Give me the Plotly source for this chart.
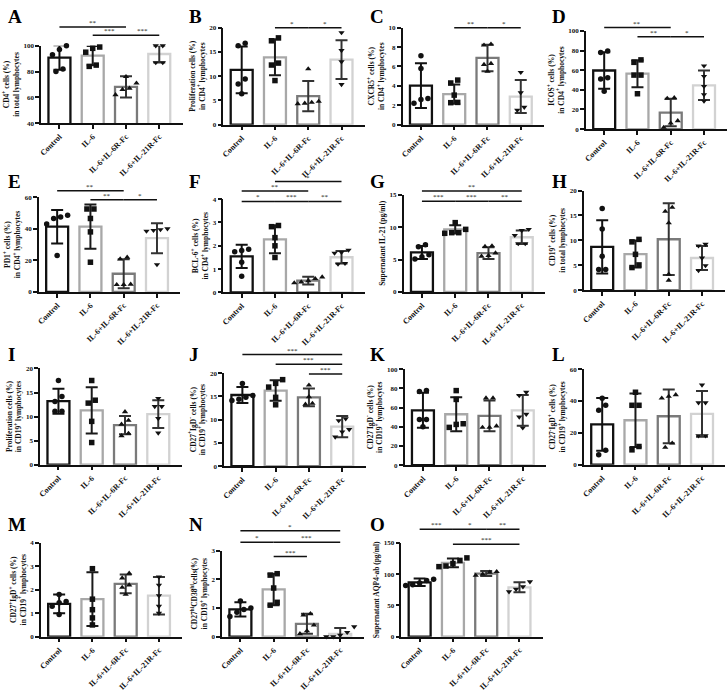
import plotly.graph_objects as go

W, H = 728, 692
GROUPS = ["Control", "IL-6", "IL-6+IL-6R-Fc", "IL-6+IL-21R-Fc"]

# ---------------- data ----------------
A_mean = [90.8, 92.3, 68.1, 93.6]
A_sd = [9.5, 7.5, 8.3, 6.5]
A_pts = [[100, 97, 93, 82, 80], [99, 98, 95, 85, 84], [76, 71, 67, 62, 66], [100, 100, 87, 87]]
A_ticks = [40, 60, 80, 100]
A_sig = [(0, 2, "**", 114.5), (1, 2, "***", 108.1), (2, 3, "***", 108.1)]

B_mean = [11.3, 13.9, 5.9, 13.4]
B_sd = [4.8, 3.7, 3.1, 4.0]
B_pts = [[16.8, 16.3, 9.4, 8.4, 6.4], [17.3, 17.9, 12.3, 12.7, 9.1], [11.5, 4.8, 4.6, 4.3, 4.4], [19.0, 15.3, 13.0, 8.3]]
B_ticks = [0, 5, 10, 15, 20]
B_sig = [(1, 2, "*", 20), (2, 3, "*", 20)]

C_mean = [4.03, 3.15, 6.88, 2.9]
C_sd = [2.3, 1.0, 1.37, 1.7]
C_pts = [[7.1, 5.8, 2.7, 2.6, 2.2], [4.6, 4.3, 3.05, 2.27, 2.3], [8.2, 8.3, 6.3, 6.2, 5.5], [5.4, 3.3, 1.8, 1.5]]
C_ticks = [0, 2, 4, 6, 8, 10]
C_sig = [(1, 2, "**", 10), (2, 3, "*", 10)]

D_mean = [59.7, 56.4, 16.8, 44.6]
D_sd = [18.5, 13.7, 14.0, 15.0]
D_pts = [[79.5, 78, 51, 52.3, 38.6], [68, 70.5, 55, 55, 36], [31.2, 31.9, 6, 8.4, 1.7], [64.4, 53.7, 43.6, 35.2, 28.5]]
D_ticks = [0, 20, 40, 60, 80, 100]
D_sig = [(0, 2, "**", 103.4), (1, 2, "**", 94), (2, 3, "*", 94)]

E_mean = [41.3, 41.3, 11.5, 34.0]
E_sd = [10.6, 14.0, 9.2, 9.5]
E_pts = [[48.5, 46.5, 47.5, 43, 23], [52.5, 52.5, 46.5, 38, 18.8], [21.9, 20.8, 4.6, 4.8, 4.6], [40, 39.5, 39, 38.5, 17.3]]
E_ticks = [0, 20, 40, 60]
E_sig = [(0, 2, "**", 64), (1, 2, "**", 58.3), (2, 3, "*", 58.3)]

F_mean = [1.55, 2.28, 0.51, 1.51]
F_sd = [0.5, 0.6, 0.17, 0.27]
F_pts = [[1.85, 1.75, 1.8, 1.3, 0.7], [2.82, 2.87, 2.35, 2.0, 1.5], [0.59, 0.66, 0.45, 0.41, 0.5], [1.69, 1.82, 1.72, 1.25, 1.22]]
F_ticks = [0, 1, 2, 3, 4]
F_sig = [(1, 3, "*", 4.75), (0, 2, "**", 4.35), (0, 1, "*", 3.9), (1, 2, "***", 3.9), (2, 3, "**", 3.9)]

G_mean = [6.1, 9.66, 6.0, 8.44]
G_sd = [1.0, 0.65, 0.9, 1.05]
G_pts = [[7.27, 6.97, 5.44, 5.74, 5.08], [10.7, 9.15, 9.05, 9.66, 9.15], [7.1, 7.0, 6.0, 5.6, 5.5], [9.5, 9.66, 8.75, 7.47, 7.47]]
G_ticks = [0, 5, 10, 15]
G_sig = [(0, 3, "**", 15.6), (0, 1, "***", 14.0), (1, 2, "***", 14.0), (2, 3, "**", 14.0)]

H_mean = [8.7, 7.26, 10.23, 6.47]
H_sd = [5.35, 2.7, 7.2, 2.4]
H_pts = [[16.4, 12.3, 6.8, 4.16, 4.16], [10.2, 9.7, 7.2, 4.55, 5.08], [16.6, 15.8, 13.5, 3.2, 2.0], [9.24, 8.9, 6.47, 4.95, 3.96]]
H_ticks = [0, 5, 10, 15, 20]
H_sig = []

I_mean = [13.2, 11.3, 8.2, 10.5]
I_sd = [2.6, 4.8, 1.9, 2.9]
I_pts = [[17.5, 14.2, 13.15, 11.1, 11.1], [17.5, 13.4, 12.8, 9.0, 4.6], [11.0, 9.2, 8.4, 6.5, 6.0], [13.8, 12.1, 12.1, 9.6, 6.6]]
I_ticks = [0, 5, 10, 15, 20]
I_sig = []

J_mean = [15.3, 16.25, 14.8, 8.5]
J_sd = [1.7, 2.2, 1.9, 2.3]
J_pts = [[17.8, 15.2, 14.8, 14.4, 14.1], [18.6, 17.8, 17.0, 14.8, 13.2], [17.4, 14.9, 13.5, 13.3], [10.2, 9.8, 7.9, 7.4, 6.3]]
J_ticks = [0, 5, 10, 15, 20]
J_sig = [(0, 3, "***", 24), (1, 3, "***", 21.9), (2, 3, "***", 19.8)]

K_mean = [57.2, 53.1, 51.4, 57.2]
K_sd = [18.3, 17.6, 16.0, 16.0]
K_pts = [[77.7, 76.7, 47.6, 47.6, 40], [77.7, 68.5, 39.4, 43.2, 42.5], [69.9, 69.9, 39.4, 39.4, 40.8], [76, 72.6, 50.3, 53.1, 39]]
K_ticks = [0, 20, 40, 60, 80, 100]
K_sig = []

L_mean = [25.3, 27.9, 30.4, 31.9]
L_sd = [16.6, 16.8, 16.9, 14.4]
L_pts = [[41.8, 37.3, 34.2, 9.1, 6.2], [37.3, 37.3, 45.5, 11.4, 9.3], [43.9, 42.9, 41.8, 13.5, 10.8], [50.1, 38.9, 38.9, 18.2, 18.2]]
L_ticks = [0, 20, 40, 60]
L_sig = []

M_mean = [1.4, 1.6, 2.25, 1.75]
M_sd = [0.4, 1.15, 0.4, 0.8]
M_pts = [[1.8, 1.5, 1.45, 1.3, 0.95], [2.9, 1.6, 1.15, 0.8, 0.5], [2.7, 2.5, 2.2, 2.1, 1.8], [2.55, 2.2, 1.75, 1.3, 1.0]]
M_ticks = [0, 1, 2, 3, 4]
M_sig = []

N_mean = [0.95, 1.65, 0.45, 0.1]
N_sd = [0.25, 0.55, 0.35, 0.2]
N_pts = [[1.25, 1.0, 0.95, 0.85, 0.7], [2.2, 2.15, 1.7, 1.2, 1.1], [0.8, 0.75, 0.4, 0.2, 0.1], [0.35, 0.15, 0.05, 0.0, 0.0]]
N_ticks = [0, 1, 2, 3]
N_sig = [(0, 3, "*", 3.7), (0, 1, "*", 3.3), (1, 3, "***", 3.3), (1, 2, "***", 2.8)]

O_mean = [87, 118, 101, 79]
O_sd = [6, 7, 4, 8]
O_pts = [[92, 90, 86, 83, 82], [126, 122, 117, 113, 112], [104, 103, 100, 98], [88, 80, 76, 72]]
O_ticks = [0, 50, 100, 150]
O_sig = [(0, 1, "***", 172), (1, 2, "*", 172), (2, 3, "**", 172), (1, 3, "***", 148)]

SUP = "<sup>+</sup>"
MIN = "<sup>-</sup>"
panels = [
    ("A", A_mean, A_sd, A_pts, A_ticks, A_sig, "CD4" + SUP + " cells (%)<br>in total lymphocytes"),
    ("B", B_mean, B_sd, B_pts, B_ticks, B_sig, "Proliferation cells (%)<br>in CD4" + SUP + " lymphocytes"),
    ("C", C_mean, C_sd, C_pts, C_ticks, C_sig, "CXCR5" + SUP + " cells (%)<br>in CD4" + SUP + " lymphocytes"),
    ("D", D_mean, D_sd, D_pts, D_ticks, D_sig, "ICOS" + SUP + " cells (%)<br>in CD4" + SUP + " lymphocytes"),
    ("E", E_mean, E_sd, E_pts, E_ticks, E_sig, "PD1" + SUP + " cells (%)<br>in CD4" + SUP + " lymphocytes"),
    ("F", F_mean, F_sd, F_pts, F_ticks, F_sig, "BCL-6" + SUP + " cells (%)<br>in CD4" + SUP + " lymphocytes"),
    ("G", G_mean, G_sd, G_pts, G_ticks, G_sig, "Supernatant IL-21 (pg/ml)"),
    ("H", H_mean, H_sd, H_pts, H_ticks, H_sig, "CD19" + SUP + " cells (%)<br>in total lymphocytes"),
    ("I", I_mean, I_sd, I_pts, I_ticks, I_sig, "Proliferation cells (%)<br>in CD19" + SUP + " lymphocytes"),
    ("J", J_mean, J_sd, J_pts, J_ticks, J_sig, "CD27" + SUP + "IgD" + MIN + " cells (%)<br>in CD19" + SUP + " lymphocytes"),
    ("K", K_mean, K_sd, K_pts, K_ticks, K_sig, "CD27" + MIN + "IgD" + MIN + " cells (%)<br>in CD19" + SUP + " lymphocytes"),
    ("L", L_mean, L_sd, L_pts, L_ticks, L_sig, "CD27" + MIN + "IgD" + SUP + " cells (%)<br>in CD19" + SUP + " lymphocytes"),
    ("M", M_mean, M_sd, M_pts, M_ticks, M_sig, "CD27" + SUP + "IgD" + SUP + " cells (%)<br>in CD19" + SUP + " lymphocytes"),
    ("N", N_mean, N_sd, N_pts, N_ticks, N_sig, "CD27<sup>hi</sup>CD38<sup>hi</sup>cells(%)<br>in CD19" + SUP + " lymphocytes"),
    ("O", O_mean, O_sd, O_pts, O_ticks, O_sig, "Supernatant AQP4-ab (pg/ml)"),
]

# ---------------- layout geometry (pixels) ----------------
# axis left x, top-tick y, bottom y
GEOM = [
    (38.3, 42.3, 120.7), (221.3, 24, 122.3), (401.3, 24, 122.3), (585.3, 27.3, 126.7),
    (36.0, 195.7, 291.7), (221.3, 197.7, 292.3), (402.3, 193.3, 291.7), (583.3, 189, 290),
    (37.3, 369.3, 466.7), (222, 374, 468.3), (403.3, 370, 467.3), (583.3, 370, 466.7),
    (38, 546, 641), (220, 554, 641), (400, 546, 641),
]
LETTER_Y = [13, 13, 13, 13, 180, 180, 180, 180, 355, 355, 355, 355, 527, 527, 527]
AX_W = 142.0
XR = (-0.55, 3.7)

BAR_LINE = ["#111111", "#a8a8a8", "#7a7a7a", "#d2d2d2"]
ERR_COL = ["#111111", "#1a1a1a", "#333333", "#333333"]
SYMBOLS = ["circle", "square", "triangle-up", "triangle-down"]
FONT = "Liberation Serif, Times New Roman, serif"

fig = go.Figure()
layout = dict(width=W, height=H, margin=dict(l=0, r=0, t=0, b=0),
              paper_bgcolor="white", plot_bgcolor="white", showlegend=False,
              shapes=[], annotations=[])


def spread(vals, ymin, ymax, ypx):
    """horizontal scatter offsets for points that overlap vertically"""
    order = sorted(range(len(vals)), key=lambda k: vals[k])
    offs = [0.0] * len(vals)
    groups_ = []
    cur = [order[0]]
    for k in order[1:]:
        if abs(vals[k] - vals[cur[-1]]) / (ymax - ymin) * ypx < 6:
            cur.append(k)
        else:
            groups_.append(cur)
            cur = [k]
    groups_.append(cur)
    for g in groups_:
        n = len(g)
        for r, k in enumerate(g):
            offs[k] = (r - (n - 1) / 2) * 0.21
    return offs


for idx, (letter, mean, sd, pts, ticks, sig, title) in enumerate(panels):
    n = idx + 1
    xa = "x" if n == 1 else f"x{n}"
    ya = "y" if n == 1 else f"y{n}"
    x0, ytop, ybot = GEOM[idx]
    ymin, ymax = ticks[0], ticks[-1]
    ypx = ybot - ytop

    def px_x(c):
        return x0 + (c - XR[0]) / (XR[1] - XR[0]) * AX_W

    def px_y(v):
        return ybot - (v - ymin) / (ymax - ymin) * ypx

    fig.add_trace(go.Bar(x=list(range(4)), y=mean, width=0.66, xaxis=xa, yaxis=ya,
                         marker=dict(color="white", line=dict(color=BAR_LINE, width=2.3))))
    for g in range(4):
        fig.add_trace(go.Scatter(x=[g], y=[mean[g]], mode="markers", xaxis=xa, yaxis=ya,
                                 marker=dict(size=1, color="rgba(0,0,0,0)"), cliponaxis=False,
                                 error_y=dict(type="data", array=[sd[g]], color=ERR_COL[g],
                                              thickness=2, width=6)))
    for g in range(4):
        offs = spread(pts[g], ymin, ymax, ypx)
        fig.add_trace(go.Scatter(x=[g + o for o in offs], y=pts[g], mode="markers",
                                 xaxis=xa, yaxis=ya, cliponaxis=False,
                                 marker=dict(symbol=SYMBOLS[g], size=5.5, color="#111111")))

    layout["xaxis" if n == 1 else f"xaxis{n}"] = dict(
        domain=[x0 / W, (x0 + AX_W) / W], range=list(XR), anchor=ya,
        tickvals=list(range(4)), ticktext=GROUPS, tickangle=-45,
        showline=True, linecolor="#111111", linewidth=1.5, ticks="outside",
        ticklen=4, tickwidth=1.5, tickcolor="#111111", showgrid=False, zeroline=False,
        tickfont=dict(family=FONT, size=8, color="#111111", weight="bold"))
    layout["yaxis" if n == 1 else f"yaxis{n}"] = dict(
        domain=[1 - ybot / H, 1 - ytop / H], range=[ymin, ymax], anchor=xa,
        tickvals=ticks, showline=True, linecolor="#111111", linewidth=1.5,
        ticks="outside", ticklen=4, tickwidth=1.5, tickcolor="#111111",
        showgrid=False, zeroline=False,
        tickfont=dict(family=FONT, size=7, color="#111111", weight="bold"),
        title=dict(text=title, standoff=3,
                   font=dict(family=FONT, size=7.5, color="#111111", weight="bold")))

    # significance bars
    for (i, j, lab, lev) in sig:
        yy = 1 - px_y(lev) / H
        layout["shapes"].append(dict(type="line", xref="paper", yref="paper",
                                     x0=px_x(i) / W, x1=px_x(j) / W, y0=yy, y1=yy,
                                     line=dict(color="#111111", width=1.5)))
        layout["annotations"].append(dict(xref="paper", yref="paper", x=(px_x(i) + px_x(j)) / 2 / W,
                                          y=yy, yanchor="bottom", xanchor="center", showarrow=False,
                                          text=lab, yshift=-2,
                                          font=dict(family=FONT, size=7, color="#111111")))
    # panel letter
    col = idx % 4
    layout["annotations"].append(dict(xref="paper", yref="paper", x=(col * 182 + 3) / W,
                                      y=1 - LETTER_Y[idx] / H, xanchor="left", yanchor="middle",
                                      showarrow=False, text="<b>" + letter + "</b>",
                                      font=dict(family=FONT, size=19, color="#000000")))

fig.update_layout(**layout)
fig.write_html("out.html")
